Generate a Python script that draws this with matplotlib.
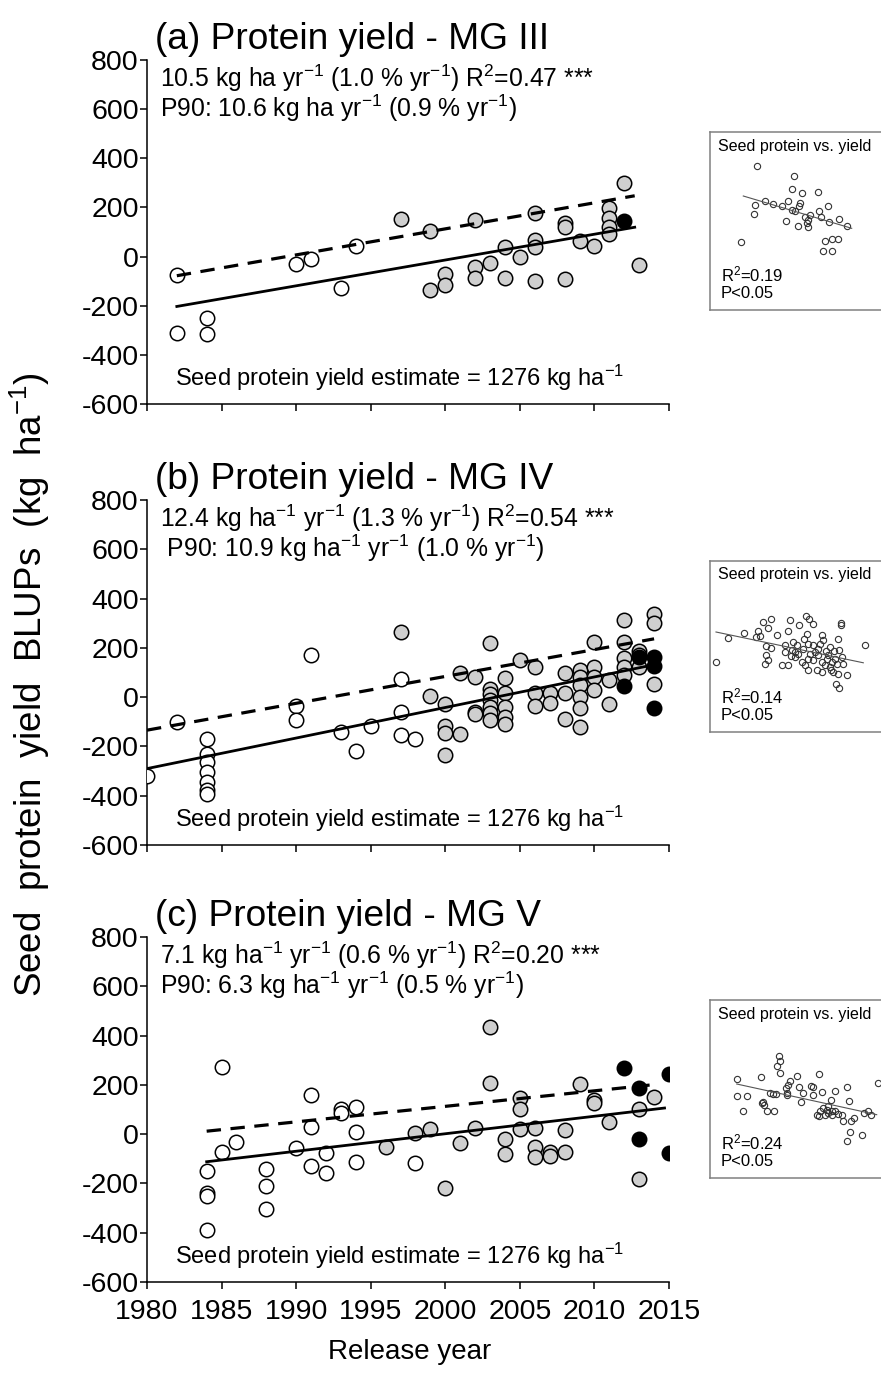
import numpy as np
import matplotlib
matplotlib.use("Agg")
import matplotlib.pyplot as plt

plt.rcParams["font.family"] = ["Liberation Sans", "DejaVu Sans"]
plt.rcParams["mathtext.fontset"] = "custom"
plt.rcParams["mathtext.rm"] = "Liberation Sans"
plt.rcParams["mathtext.it"] = "Liberation Sans:italic"
plt.rcParams["mathtext.bf"] = "Liberation Sans:bold"
plt.rcParams["axes.unicode_minus"] = False

# ---------------- data ----------------
# (a) MG III
A_OPEN_X = [1982, 1982, 1984, 1984, 1990, 1991, 1993, 1994]
A_OPEN_Y = [-73, -311, -250, -316, -30, -10, -129, 45]
A_GRAY_X = [1997, 1999, 1999, 2000, 2000, 2002, 2002, 2002, 2003, 2004, 2004,
            2005, 2006, 2006, 2006, 2006, 2008, 2008, 2008, 2009, 2010, 2011,
            2011, 2011, 2011, 2012, 2013]
A_GRAY_Y = [151, 106, -135, -71, -114, 147, -41, -87, -26, 38, -87,
            0, 177, 68, 38, -101, 136, 120, -91, 65, 41, 197,
            156, 120, 90, 299, -33]
A_BLACK_X = [2012]
A_BLACK_Y = [143]
A_FIT = (1982, 2012.7, -203, 10.5)     # start year, end year, value at start, slope
A_P90 = (1982, 2012.7, -78, 10.6)

# (b) MG IV
B_OPEN_X = [1980, 1982, 1984, 1984, 1984, 1984, 1984, 1984, 1984, 1990, 1990,
            1991, 1993, 1994, 1995, 1997, 1997, 1997, 1998]
B_OPEN_Y = [-321, -100, -168, -229, -263, -304, -344, -378, -392, -35, -93,
            171, -141, -220, -117, 73, -62, -154, -168]
B_GRAY_X = [1997, 1999, 2000, 2000, 2000, 2000, 2001, 2001, 2002, 2002, 2002,
            2003, 2003, 2003, 2003, 2003, 2003, 2003, 2004, 2004, 2004, 2004,
            2004, 2005, 2006, 2006, 2006, 2007, 2007, 2008, 2008, 2008, 2009,
            2009, 2009, 2009, 2009, 2009, 2010, 2010, 2010, 2010, 2011, 2011,
            2012, 2012, 2012, 2012, 2012, 2013, 2013, 2013, 2014, 2014, 2014]
B_GRAY_Y = [265, 4, -26, -117, -145, -233, -148, 96, 80, -60, -69,
            221, 35, 12, -12, -39, -66, -91, 76, 15, -39, -80,
            -107, 150, 123, 17, -35, 15, -22, 96, 17, -87, 110,
            83, 49, 1, -43, -121, 222, 123, 83, 28, 69, -26,
            313, 225, 160, 123, 89, 188, 171, 123, 337, 302, 53]
B_BLACK_X = [2012, 2013, 2014, 2014, 2014]
B_BLACK_Y = [45, 164, 164, 126, -43]
B_FIT = (1980, 2014, -290, 12.4)
B_P90 = (1980, 2014, -134, 10.9)

# (c) MG V
C_OPEN_X = [1984, 1984, 1984, 1984, 1985, 1985, 1986, 1988, 1988, 1988, 1990,
            1991, 1991, 1991, 1992, 1992, 1993, 1993, 1994, 1994, 1994, 1998]
C_OPEN_Y = [-150, -240, -251, -389, 273, -74, -31, -143, -211, -305, -55,
            158, 30, -128, -76, -157, 104, 86, 111, 9, -112, -119]
C_GRAY_X = [1996, 1998, 1999, 2000, 2001, 2002, 2003, 2003, 2004, 2004, 2005,
            2005, 2005, 2006, 2006, 2006, 2007, 2007, 2008, 2008, 2009, 2010,
            2010, 2011, 2013, 2013, 2014]
C_GRAY_Y = [-51, 3, 20, -220, -34, 23, 434, 209, -21, -81, 145,
            104, 19, 26, -51, -92, -72, -88, 16, -72, 202, 140,
            125, 50, 104, -182, 149]
C_BLACK_X = [2012, 2013, 2013, 2015, 2015]
C_BLACK_Y = [268, 189, -21, 243, -76]
C_FIT = (1984, 2014.7, -112, 7.1)
C_P90 = (1984, 2013.7, 12, 6.3)

TITLES = ["(a) Protein yield - MG III", "(b) Protein yield - MG IV",
          "(c) Protein yield - MG V"]
TXT1 = [r"10.5 kg ha yr$^{-1}$ (1.0 % yr$^{-1}$) R$^2$=0.47 ***",
        r"12.4 kg ha$^{-1}$ yr$^{-1}$ (1.3 % yr$^{-1}$) R$^2$=0.54 ***",
        r"7.1 kg ha$^{-1}$ yr$^{-1}$ (0.6 % yr$^{-1}$) R$^2$=0.20 ***"]
TXT2 = [r"P90: 10.6 kg ha yr$^{-1}$ (0.9 % yr$^{-1}$)",
        r" P90: 10.9 kg ha$^{-1}$ yr$^{-1}$ (1.0 % yr$^{-1}$)",
        r"P90: 6.3 kg ha$^{-1}$ yr$^{-1}$ (0.5 % yr$^{-1}$)"]
ESTIMATE = r"Seed protein yield estimate = 1276 kg ha$^{-1}$"

# insets: seed protein vs. yield (relative units, no scale shown)
IA_X = [46.7, 84, 82.3, 91.7, 108, 45, 55, 63.3, 71.7, 77.7, 90.3, 89, 81.7, 85,
        43.7, 75.7, 88.3, 98.3, 95, 100, 98.3, 109, 117.7, 111, 119, 129, 137,
        115, 121.7, 127.7, 113.3, 121.7, 31, 96.7]
IA_Y = [144.3, 134, 120.7, 117.3, 117.7, 105, 109.3, 105.7, 104, 109.3, 106.7,
        104, 100, 99.3, 95.7, 89, 84, 83.3, 93.3, 95, 90, 99.3, 104, 92.7, 88.3,
        91, 84.3, 69.3, 70.7, 70.7, 59.3, 59.3, 68.3, 87.3]
IA_LINE = (33.3, 141.7, 114, -0.298)
IA_R2 = "0.19"

IB_X = [6, 18.3, 34.3, 47.7, 46, 50.3, 52.7, 61, 57.7, 66.7, 80, 78.3, 89, 96,
        99, 103.3, 97.3, 94, 56, 61, 56, 57.7, 55, 71.7, 78.3, 75, 83.3, 86.7,
        81.7, 88.3, 93.3, 98.3, 103.3, 107.7, 111.7, 113.3, 110, 115.7, 120,
        124.3, 127.7, 130.7, 130.7, 155, 129, 131.7, 98.3, 103.3, 108.3, 111.7,
        116.7, 121.7, 126.7, 123.3, 128.3, 136.7, 98.3, 106.7, 111.7, 121, 126,
        129.3, 85, 91.7, 100, 85, 95, 105, 115, 120, 125, 133.3, 75, 81, 117.7]
IB_Y = [70, 94, 99, 100.7, 95, 96, 110, 113.3, 104.3, 96.7, 111.7, 100.7,
        107.3, 116, 112.7, 108.3, 98.3, 93.3, 85.7, 84, 77.3, 71.7, 68.3, 66.7,
        67.3, 80, 90, 86.7, 81.7, 78.3, 83.3, 88.3, 86.7, 83.3, 97.3, 91.7,
        88.3, 80.7, 85, 80.7, 92.7, 109.3, 106.7, 86.7, 81.7, 75, 73.3, 71.7,
        76.7, 70, 73.3, 70, 68.3, 60, 58.3, 56.7, 61.7, 61.7, 60, 61.7, 48.3,
        44, 75, 70, 78.3, 80, 66.7, 80, 67.3, 65, 73.3, 68.3, 86.7, 76, 76.7]
IB_LINE = (6, 153.3, 100, -0.209)
IB_R2 = "0.14"

IC_X = [27.3, 50.7, 69, 70, 67.3, 70, 78.3, 80, 86.7, 75.7, 76.7, 89, 93.3,
        101, 103.3, 109, 112.3, 103.3, 91, 125, 136.7, 139, 167.7, 26.7, 36.7,
        32.7, 52.7, 54.3, 56.7, 64, 60, 63.3, 66, 106.7, 110, 113.3, 116.7,
        118.3, 121.7, 125, 128.3, 131.7, 132.7, 141, 144.3, 154.3, 158.3, 160.7,
        140, 151.7, 137.3, 117.7, 121, 109, 115, 121.7, 51.7, 76.7]
IC_Y = [99.3, 101, 121.7, 116.7, 111.7, 105, 93.3, 97.3, 101.7, 90, 85, 90.7,
        85, 91.7, 90.7, 104.3, 85.7, 83.3, 75.7, 86.7, 90.7, 76.7, 95, 82.3,
        81.7, 66.7, 76, 73.3, 67.3, 67.3, 85, 84.3, 84.3, 63.3, 66.7, 70, 68.3,
        65, 66.7, 66.7, 64.3, 63.3, 56.7, 57.3, 60, 65, 66.7, 63.3, 46, 42.7,
        36.7, 71.7, 78.3, 61.7, 63.3, 63.3, 75, 83.3]
IC_LINE = (26.7, 166.7, 94, -0.219)
IC_R2 = "0.24"

# ---------------- layout (figure pixels) ----------------
W, H = 881, 1374
fig = plt.figure(figsize=(W / 100, H / 100), dpi=100)


def px_axes(left, top, right, bottom):
    return fig.add_axes([left / W, 1 - bottom / H, (right - left) / W, (bottom - top) / H])


MAIN_BOXES = [(147, 60, 669, 404), (147, 500, 669, 845), (147, 937, 669, 1282)]
INSET_BOXES = [(710, 132, 930, 310), (710, 561, 930, 732), (710, 1000, 930, 1178)]

panels = [
    (A_OPEN_X, A_OPEN_Y, A_GRAY_X, A_GRAY_Y, A_BLACK_X, A_BLACK_Y, A_FIT, A_P90),
    (B_OPEN_X, B_OPEN_Y, B_GRAY_X, B_GRAY_Y, B_BLACK_X, B_BLACK_Y, B_FIT, B_P90),
    (C_OPEN_X, C_OPEN_Y, C_GRAY_X, C_GRAY_Y, C_BLACK_X, C_BLACK_Y, C_FIT, C_P90),
]
insets = [(IA_X, IA_Y, IA_LINE, IA_R2), (IB_X, IB_Y, IB_LINE, IB_R2),
          (IC_X, IC_Y, IC_LINE, IC_R2)]

MS = 108
for i, (ox, oy, gx, gy, bx, by, fit, p90) in enumerate(panels):
    ax = px_axes(*MAIN_BOXES[i])
    ax.scatter(ox, oy, s=MS, facecolor="white", edgecolor="black", linewidth=1.1, zorder=3)
    ax.scatter(gx, gy, s=MS, facecolor="#cfcfcf", edgecolor="black", linewidth=1.1, zorder=3)
    ax.scatter(bx, by, s=MS, facecolor="black", edgecolor="black", linewidth=1.1, zorder=3)

    x0, x1, y0, k = fit
    xs = np.array([x0, x1])
    ax.plot(xs, y0 + k * (xs - x0), color="black", lw=2.0, zorder=4)
    x0, x1, y0, k = p90
    xs = np.array([x0, x1])
    ax.plot(xs, y0 + k * (xs - x0), color="black", lw=2.3, ls=(0, (4.5, 3)), zorder=4)

    ax.set_xlim(1980, 2015)
    ax.set_ylim(-600, 800)
    ax.set_xticks(np.arange(1980, 2016, 5))
    ax.set_yticks(np.arange(-600, 801, 200))
    for side in ("top", "right"):
        ax.spines[side].set_visible(False)
    for side in ("left", "bottom"):
        ax.spines[side].set_linewidth(1.1)
    ax.tick_params(direction="out", length=5, width=1.1, labelsize=20.5, pad=1)
    ax.tick_params(axis="x", pad=7)
    if i < 2:
        ax.set_xticklabels([])

    ax.annotate(TITLES[i], xy=(0, 1), xycoords="axes fraction", xytext=(6, 15),
                textcoords="offset points", ha="left", va="center", fontsize=26.7)
    ax.text(1980.9, 725, TXT1[i], fontsize=17.8, ha="left", va="center")
    ax.text(1980.9, 605, TXT2[i], fontsize=17.8, ha="left", va="center")
    ax.text(1981.9, -495, ESTIMATE, fontsize=17, ha="left", va="center")

    # inset
    ix, iy, iline, ir2 = insets[i]
    l, t, r, b = INSET_BOXES[i]
    ins = px_axes(l, t, r, b)
    ins.set_xlim(0, r - l)
    ins.set_ylim(0, b - t)
    ins.set_xticks([])
    ins.set_yticks([])
    for sp in ins.spines.values():
        sp.set_color("#808080")
        sp.set_linewidth(1.1)
    ins.plot(ix, iy, ls="none", marker="o", ms=4.5, mfc="none", mec="#333333", mew=0.8)
    lx0, lx1, ly0, lk = iline
    lxs = np.array([lx0, lx1])
    ins.plot(lxs, ly0 + lk * (lxs - lx0), color="#555555", lw=0.8)
    ins.text(8, (b - t) - 14, "Seed protein vs. yield", fontsize=11.5, ha="left", va="center")
    ins.text(11, 36, r"R$^2$=" + ir2, fontsize=12, ha="left", va="center")
    ins.text(11, 17, "P<0.05", fontsize=12, ha="left", va="center")

fig.text(30 / W, 1 - 685 / H, r"Seed  protein  yield  BLUPs  (kg  ha$^{-1}$)",
         rotation=90, ha="center", va="center", fontsize=26.5)
fig.text(410 / W, 1 - 1352 / H, "Release year", ha="center", va="center", fontsize=20)

fig.savefig("out.png", dpi=100)
